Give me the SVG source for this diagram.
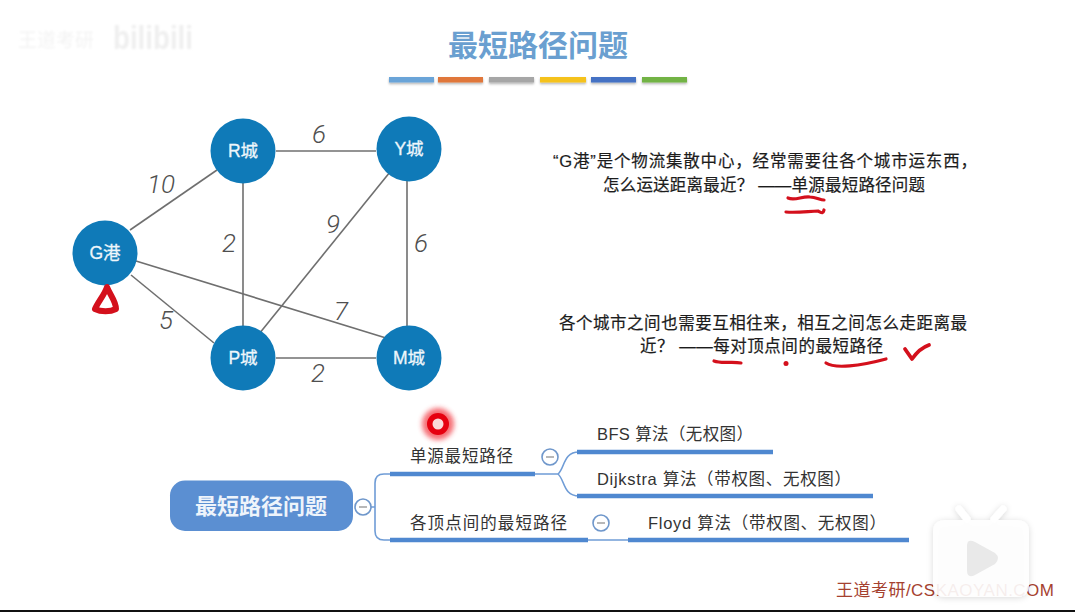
<svg xmlns="http://www.w3.org/2000/svg" width="1075" height="612" viewBox="0 0 1075 612">
  <defs>
    <filter id="soft" x="-60%" y="-60%" width="220%" height="220%"><feGaussianBlur stdDeviation="2.5"/></filter>
    <filter id="faint" x="-10%" y="-30%" width="120%" height="160%"><feGaussianBlur stdDeviation="1"/></filter>
    <filter id="barShadow" x="-10%" y="-50%" width="120%" height="220%"><feDropShadow dx="0" dy="1.5" stdDeviation="1" flood-color="#000" flood-opacity="0.3"/></filter>
    <filter id="tvShadow" x="-20%" y="-20%" width="140%" height="140%"><feDropShadow dx="0" dy="1" stdDeviation="3" flood-color="#000" flood-opacity="0.16"/></filter>
  </defs>
  <style>
    text { font-family: "Liberation Sans", "Noto Sans CJK SC", sans-serif; }
    .edge { stroke: #6f6f6f; stroke-width: 1.6; fill: none; }
    .city circle { fill: #0f7ab8; }
    .city text { fill: #eef6fb; stroke: #eef6fb; stroke-width: 0.3; font-size: 17.5px; text-anchor: middle; }
    .weight { fill: #4f4f4f; font-family: Roboto, "Liberation Sans", sans-serif; font-weight: 300; font-size: 26px; font-style: italic; text-anchor: middle; }
    .note { fill: #1c1c1c; stroke: #1c1c1c; stroke-width: 0.2; font-size: 16.5px; }
    .leaf { fill: #333; font-size: 16.5px; }
    .branch { stroke: #6f9cd6; stroke-width: 1.6; fill: none; }
    .under { stroke: #4f88d0; stroke-width: 4.5; fill: none; }
    .toggle circle { fill: #fff; stroke: #6f97cb; stroke-width: 1.6; }
    .toggle line { stroke: #9a9a9a; stroke-width: 1.4; }
    .ink { stroke: #d4101c; stroke-linecap: round; stroke-linejoin: round; fill: none; stroke-width: 3.2; }
  </style>

  <rect width="1075" height="612" fill="#fff"/>

  <!-- corner marks -->
  <g filter="url(#faint)">
    <text x="18" y="47" font-size="19" fill="#f3f3f3">王道考研</text>
    <text x="113" y="49" font-size="34" font-weight="bold" textLength="80" lengthAdjust="spacingAndGlyphs" fill="#efefef">bilibili</text>
  </g>

  <!-- heading and colour strip -->
  <g id="heading">
    <text x="538" y="56" font-size="30" font-weight="bold" fill="#6a9fd0" text-anchor="middle">最短路径问题</text>
    <g filter="url(#barShadow)">
      <rect x="389" y="77" width="45" height="5.500" fill="#6aa4d8"/>
      <rect x="438" y="77" width="45" height="5.500" fill="#e0773a"/>
      <rect x="489" y="77" width="45" height="5.500" fill="#a6a6a6"/>
      <rect x="540" y="77" width="46" height="5.500" fill="#f5c21a"/>
      <rect x="591" y="77" width="45" height="5.500" fill="#4472c4"/>
      <rect x="642" y="77" width="45" height="5.500" fill="#72b344"/>
    </g>
  </g>

  <!-- graph edges -->
  <g id="connectors">
    <line class="edge" x1="130" y1="230" x2="217" y2="170"/>
    <line class="edge" x1="131" y1="275" x2="214" y2="343"/>
    <line class="edge" x1="136" y1="261" x2="386" y2="338"/>
    <line class="edge" x1="276" y1="151" x2="376" y2="151"/>
    <line class="edge" x1="243" y1="182" x2="243" y2="327"/>
    <line class="edge" x1="259" y1="334" x2="390" y2="172"/>
    <line class="edge" x1="407" y1="180" x2="407" y2="327"/>
    <line class="edge" x1="276" y1="358" x2="376" y2="358"/>
  </g>

  <g id="weights">
    <text class="weight" x="161" y="193">10</text>
    <text class="weight" x="319" y="143">6</text>
    <text class="weight" x="229" y="252">2</text>
    <text class="weight" x="333" y="233">9</text>
    <text class="weight" x="421" y="252">6</text>
    <text class="weight" x="166" y="329">5</text>
    <text class="weight" x="341" y="320">7</text>
    <text class="weight" x="318" y="382">2</text>
  </g>

  <g id="node-r" class="city"><circle cx="243" cy="151" r="32.500"/><text x="243" y="157">R城</text></g>
  <g id="node-y" class="city"><circle cx="409" cy="149" r="32.500"/><text x="409" y="155">Y城</text></g>
  <g id="node-g" class="city"><circle cx="105" cy="253" r="32.500"/><text x="105" y="259">G港</text></g>
  <g id="node-p" class="city"><circle cx="243" cy="358" r="32.500"/><text x="243" y="364">P城</text></g>
  <g id="node-m" class="city"><circle cx="409" cy="358" r="32.500"/><text x="409" y="364">M城</text></g>

  <!-- explanatory notes -->
  <g id="notes">
    <text class="note" x="553" y="167" textLength="424">“G港”是个物流集散中心，经常需要往各个城市运东西，</text>
    <text class="note" x="603" y="191" textLength="322">怎么运送距离最近？ ——单源最短路径问题</text>
    <text class="note" x="559" y="329" textLength="408">各个城市之间也需要互相往来，相互之间怎么走距离最</text>
    <text class="note" x="640" y="352" textLength="243">近？ ——每对顶点间的最短路径</text>
  </g>

  <!-- pen marks -->
  <g id="annotations">
    <path class="ink" style="stroke-width:6" d="M107 287 C105 294 98 302 95 309 C101 312 110 312 116 309 C116 301 110 295 107 287 Z"/>
    <path class="ink" d="M788 198 C795 201 802 196 810 197 C816 197 820 200 824 200"/>
    <path class="ink" d="M786 212 C798 213 810 211 818 211 C822 213 823 214 824 210"/>
    <path class="ink" d="M714 361 C722 364 732 361 741 363"/>
    <circle cx="786" cy="363.500" r="2.500" fill="#d4101c"/>
    <path class="ink" d="M826 363 C835 369 860 366 886 359"/>
    <path class="ink" style="stroke-width:3.800" d="M905 349 L912 359 C917 352 923 347 929 345"/>
  </g>

  <!-- pointer highlight -->
  <g id="pointer">
    <circle cx="438" cy="424" r="16" fill="#f2333a" opacity="0.7" filter="url(#soft)"/>
    <circle cx="438" cy="424" r="11" fill="#e6000f"/>
    <circle cx="438" cy="424" r="5.500" fill="#fbd9d9"/>
  </g>

  <!-- mind map -->
  <g id="map-connectors">
    <path class="branch" d="M371 507 H375 M375 507 V483 Q375 474 384 474 H390"/>
    <path class="branch" d="M375 507 V531 Q375 540 384 540 H390"/>
    <path class="branch" d="M535 474 H558 C565 468 563 452 579 452"/>
    <path class="branch" d="M558 474 C565 480 563 496 579 496"/>
    <path class="branch" d="M588 540 H630"/>
    <line class="under" x1="390" y1="474" x2="535" y2="474"/>
    <line class="under" x1="390" y1="540" x2="588" y2="540"/>
    <line class="under" x1="577" y1="452" x2="773" y2="452"/>
    <line class="under" x1="577" y1="496" x2="873" y2="496"/>
    <line class="under" x1="628" y1="540" x2="909" y2="540"/>
  </g>
  <g id="map-root">
    <rect x="170" y="480.500" width="183" height="50.500" rx="15" fill="#5b8fd2"/>
    <text x="261" y="514" font-size="22" font-weight="bold" fill="#eef4fb" text-anchor="middle">最短路径问题</text>
    <g class="toggle"><circle cx="363" cy="507" r="8"/><line x1="359" y1="507" x2="367" y2="507"/></g>
  </g>
  <g id="map-single">
    <text class="leaf" x="410" y="462" textLength="103">单源最短路径</text>
    <g class="toggle"><circle cx="550" cy="457" r="8"/><line x1="546" y1="457" x2="554" y2="457"/></g>
  </g>
  <g id="map-pairs">
    <text class="leaf" x="410" y="529" textLength="157">各顶点间的最短路径</text>
    <g class="toggle"><circle cx="601" cy="523" r="8"/><line x1="597" y1="523" x2="605" y2="523"/></g>
  </g>
  <g id="map-bfs"><text class="leaf" x="597" y="440" textLength="156">BFS 算法（无权图）</text></g>
  <g id="map-dijkstra"><text class="leaf" x="597" y="485" textLength="254">Dijkstra 算法（带权图、无权图）</text></g>
  <g id="map-floyd"><text class="leaf" x="648" y="529" textLength="238">Floyd 算法（带权图、无权图）</text></g>

  <!-- footer -->
  <text x="836" y="596" font-size="17" textLength="218" fill="#a5412f">王道考研/CSKAOYAN.COM</text>
  <g id="tv-badge">
    <g filter="url(#tvShadow)">
      <path fill="#fff" fill-opacity="0.9" d="M933 532 Q933 520 946 520 H1016 Q1029 520 1029 532 V585 Q1029 597 1016 597 H946 Q933 597 933 585 Z"/>
      <path d="M967 519 L959 509 M994 519 L1003 509" stroke="#fff" stroke-width="7" stroke-linecap="round"/>
    </g>
    <path d="M967 546 Q967 538 975 542 L995 553 Q1001 558 995 564 L975 575 Q967 579 967 570 Z" fill="#e9e9e9"/>
  </g>
  <rect x="0" y="610" width="1075" height="2" fill="#111"/>
</svg>
